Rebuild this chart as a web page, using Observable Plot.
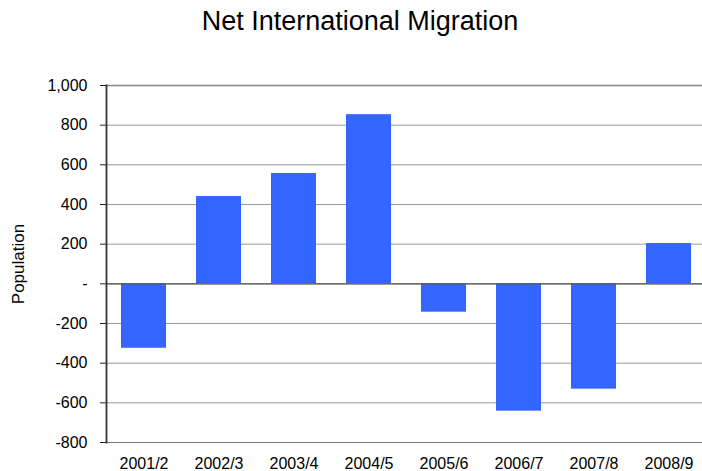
<!DOCTYPE html>
<html>
<head>
<meta charset="utf-8">
<script src="https://cdn.jsdelivr.net/npm/d3@7"></script>
<script src="https://cdn.jsdelivr.net/npm/@observablehq/plot@0.6"></script>
<style>
  html, body { margin: 0; padding: 0; background: #fff; }
  body { width: 702px; height: 471px; overflow: hidden; font-family: "Liberation Sans", Arial, sans-serif; }
  #title { box-sizing: border-box; height: 44px; padding-top: 8px; font-size: 27px; line-height: 1; text-align: center; color: #000; padding-left: 18px; }
</style>
</head>
<body>
<div id="title">Net International Migration</div>
<div id="chart"></div>
<script>
const years = ["2001/2", "2002/3", "2003/4", "2004/5", "2005/6", "2006/7", "2007/8", "2008/9"];
const migration = [-325, 440, 556, 853, -143, -642, -531, 203];
const yTicks = [-800, -600, -400, -200, 0, 200, 400, 600, 800, 1000];

const data = years.map((y, i) => ({year: y, value: migration[i]}));
const fmt = d => d === 0 ? "-" : d3.format(",")(d).replace("\u2212", "-");

const chart = Plot.plot({
  width: 702,
  height: 427,
  marginTop: 41,
  marginBottom: 29,
  marginLeft: 106,
  marginRight: 0,
  style: {fontFamily: "'Liberation Sans', Arial, sans-serif", fontSize: "16px", color: "#000", background: "#fff"},
  x: {domain: years, range: [106, 706], paddingInner: 0.4, paddingOuter: 0.2, label: null},
  y: {domain: [-800, 1000], label: null},
  marks: [
    Plot.gridY(yTicks, {stroke: "#999", strokeOpacity: 1}),
    Plot.ruleY([1000], {stroke: "#888", strokeWidth: 1.5}),
    Plot.barY(data, {x: "year", y: "value", fill: "#3366FF"}),
    Plot.ruleY([0], {stroke: "#555", strokeWidth: 1.2}),
    Plot.ruleY([-800], {stroke: "#777", strokeWidth: 1.2}),
    Plot.axisY(yTicks, {tickSize: 6, tickPadding: 13, tickFormat: fmt, stroke: "#222", label: null, fontSize: 16}),
    Plot.axisX({tickSize: 0, tickPadding: 15, label: null, fontSize: 16}),
    Plot.frame({anchor: "left", stroke: "#333", strokeWidth: 1.8}),
    Plot.text(["Population"], {frameAnchor: "left", dx: -88, rotate: -90, textAnchor: "middle", fontSize: 17, fill: "#000"})
  ]
});
document.getElementById("chart").appendChild(chart);
</script>
</body>
</html>
